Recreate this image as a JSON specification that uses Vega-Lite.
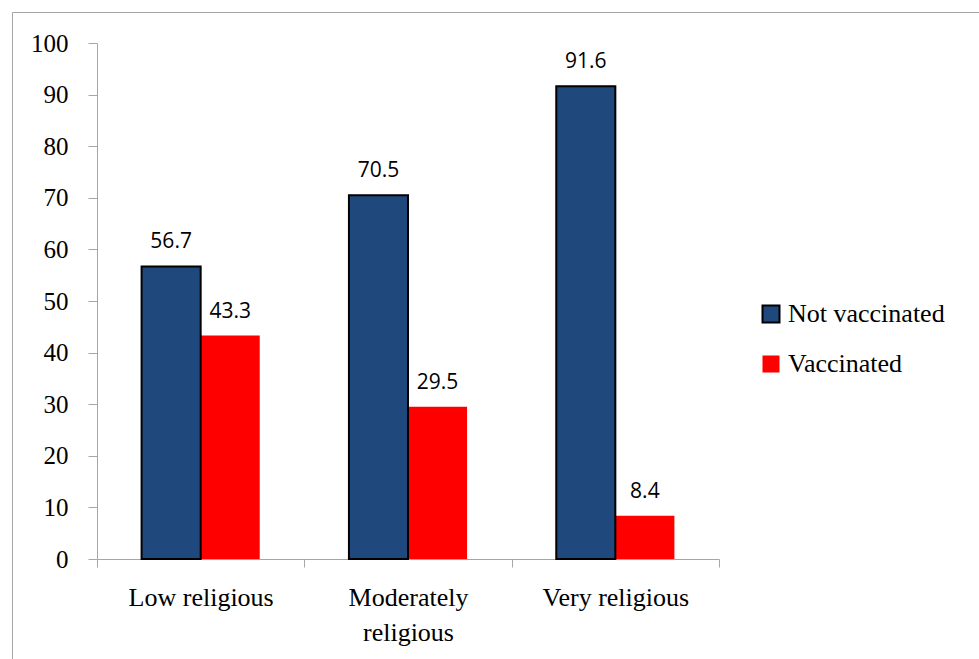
{
  "$schema": "https://vega.github.io/schema/vega-lite/v6.json",
  "width": 967,
  "height": 647,
  "autosize": {"type": "none"},
  "padding": {"left": 12, "top": 12, "right": 0, "bottom": 0},
  "background": "white",
  "config": {
    "view": {"stroke": "#a6a6a6", "strokeWidth": 1},
    "font": "Liberation Serif"
  },
  "data": {
    "values": [
      {"religiosity": "Low religious", "status": "Vaccinated", "percent": 43.3},
      {"religiosity": "Moderately religious", "status": "Vaccinated", "percent": 29.5},
      {"religiosity": "Very religious", "status": "Vaccinated", "percent": 8.4},
      {"religiosity": "Low religious", "status": "Not vaccinated", "percent": 56.7},
      {"religiosity": "Moderately religious", "status": "Not vaccinated", "percent": 70.5},
      {"religiosity": "Very religious", "status": "Not vaccinated", "percent": 91.6}
    ]
  },
  "encoding": {
    "x": {
      "field": "religiosity",
      "type": "nominal",
      "sort": ["Low religious", "Moderately religious", "Very religious"],
      "scale": {"range": [85, 707], "paddingInner": 0, "paddingOuter": 0},
      "axis": {
        "title": null,
        "orient": "bottom",
        "offset": -100,
        "labelAngle": 0,
        "labelFont": "Liberation Serif",
        "labelFontSize": 26,
        "labelColor": "#000000",
        "labelPadding": 17,
        "labelLineHeight": 35,
        "labelExpr": "length(datum.label) > 15 ? split(datum.label, ' ') : datum.label",
        "domainColor": "#a6a6a6",
        "tickColor": "#a6a6a6",
        "tickSize": 8,
        "tickBand": "extent",
        "grid": false
      }
    },
    "xOffset": {
      "field": "status",
      "type": "nominal",
      "sort": ["Not vaccinated", "Vaccinated"],
      "scale": {"paddingInner": 0, "paddingOuter": 0.755}
    },
    "y": {
      "field": "percent",
      "type": "quantitative",
      "scale": {"domain": [0, 100], "range": [547, 31], "nice": false, "zero": true},
      "axis": {
        "title": null,
        "orient": "left",
        "offset": -85,
        "values": [0, 10, 20, 30, 40, 50, 60, 70, 80, 90, 100],
        "labelFont": "Liberation Serif",
        "labelFontSize": 25,
        "labelColor": "#000000",
        "labelPadding": 20,
        "domainColor": "#a6a6a6",
        "tickColor": "#a6a6a6",
        "tickSize": 9,
        "grid": false
      }
    }
  },
  "layer": [
    {
      "mark": {"type": "bar", "strokeWidth": 2},
      "encoding": {
        "color": {
          "field": "status",
          "type": "nominal",
          "scale": {"domain": ["Not vaccinated", "Vaccinated"], "range": ["#1f497d", "#ff0000"]},
          "legend": {
            "title": null,
            "orient": "none",
            "legendX": 746,
            "legendY": 289,
            "symbolType": "square",
            "symbolSize": 289,
            "symbolStrokeWidth": 2,
            "labelFont": "Liberation Serif",
            "labelFontSize": 26,
            "labelColor": "#000000",
            "labelOffset": 4,
            "rowPadding": 24,
            "padding": 0
          }
        },
        "stroke": {
          "field": "status",
          "type": "nominal",
          "scale": {"domain": ["Not vaccinated", "Vaccinated"], "range": ["#000000", "transparent"]}
        }
      }
    },
    {
      "mark": {
        "type": "text",
        "font": "Open Sans",
        "fontSize": 21,
        "color": "#000000",
        "baseline": "alphabetic",
        "dy": -18
      },
      "encoding": {
        "text": {"field": "percent", "type": "quantitative", "format": ".1f"}
      }
    }
  ]
}
